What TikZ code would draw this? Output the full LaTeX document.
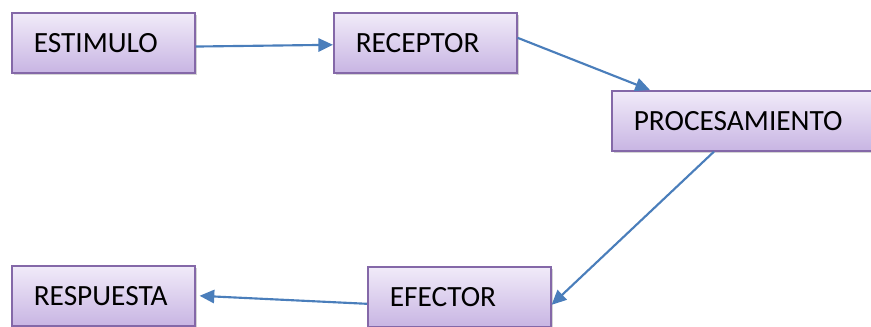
\documentclass[tikz,border=0pt]{standalone}
\usepackage{fontspec}
\setmainfont{Carlito}
\usetikzlibrary{arrows.meta,shadows}
\definecolor{boxborder}{RGB}{132,104,168}
\definecolor{boxtop}{RGB}{241,235,249}
\definecolor{boxbot}{RGB}{200,181,227}
\definecolor{arrowblue}{RGB}{74,126,187}
\tikzset{
  stagebox/.style={draw=boxborder, line width=1.2pt, top color=boxtop, bottom color=boxbot,
    minimum height=45pt, inner xsep=16.5pt, inner ysep=0pt, text width=#1, align=left,
    font=\fontsize{22}{26}\selectfont, anchor=north west,
    drop shadow={shadow xshift=1.8pt, shadow yshift=-1.8pt, opacity=0.28, fill=black!60}},
  stagebox/.default=104.25pt,
  flow/.style={draw=arrowblue, line width=1.6pt, -{Triangle[length=11pt,width=10pt]}}
}
\begin{document}
\begin{tikzpicture}[x=0.75pt,y=-0.75pt]
\useasboundingbox (0,0) rectangle (871,326);
\node[stagebox] (est) at (11,12) {ESTIMULO};
\node[stagebox] (rec) at (333,12) {RECEPTOR};
\node[stagebox=200pt] (proc) at (611,90) {PROCESAMIENTO};
\node[stagebox] (resp) at (11,265) {RESPUESTA};
\node[stagebox] (eff) at (367,266) {EFECTOR};
\draw[flow] ([yshift=-2.8pt]est.east) -- ([yshift=-1.5pt]rec.west);
\draw[flow] ([yshift=3.75pt]rec.east) -- ([xshift=29.25pt]proc.north west);
\draw[flow] ([xshift=77.25pt]proc.south west) -- ([yshift=-6pt]eff.east);
\draw[flow] ([yshift=-5.25pt]eff.west) -- ([xshift=3pt]resp.east);
\end{tikzpicture}
\end{document}
